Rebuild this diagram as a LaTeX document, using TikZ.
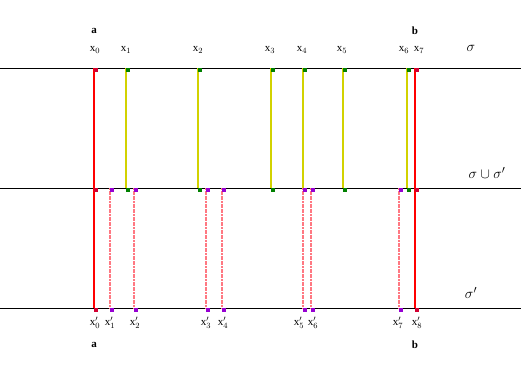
\documentclass[tikz,border=0pt]{standalone}
\usepackage{fontspec}
\setmainfont{Liberation Serif}
\definecolor{segred}{RGB}{255,0,0}
\definecolor{segyellow}{RGB}{210,210,0}
\definecolor{segpink}{RGB}{255,120,130}
\definecolor{dotgreen}{RGB}{0,128,0}
\definecolor{dotpurple}{RGB}{150,0,210}
\definecolor{dotred}{RGB}{210,0,50}
\tikzset{
    axis/.style={draw=black, line width=1pt},
    mark/.style={shape=rectangle, fill=#1, inner sep=0pt, minimum size=3.4pt, anchor=north west},
    lbl/.style={font=\fontsize{11}{13}\selectfont, inner sep=1pt},
    endseg/.style={draw=segred, line width=1.2pt},
    upseg/.style={draw=segyellow, line width=1.4pt},
    lowseg/.style={draw=segpink, line width=1.3pt, dash pattern=on 2pt off 0.6pt},
    setname/.style={font=\fontsize{15}{17}\selectfont},
    endname/.style={font=\fontsize{11}{13}\selectfont\bfseries}
}
\begin{document}
\begin{tikzpicture}[x=1pt, y=-1pt]
    \useasboundingbox (0,0) rectangle (521,373);

    % the three lines
    \coordinate (sL) at (0,68);   \coordinate (sR) at (521,68);
    \coordinate (uL) at (0,188);  \coordinate (uR) at (521,188);
    \coordinate (pL) at (0,308);  \coordinate (pR) at (521,308);
    \draw[axis] (sL) -- (sR);
    \draw[axis] (uL) -- (uR);
    \draw[axis] (pL) -- (pR);

    % points of sigma
    \coordinate (t0) at (94,68);  \coordinate (m0) at (94,188);
    \coordinate (t1) at (126,68); \coordinate (m1) at (126,188);
    \coordinate (t2) at (198,68); \coordinate (m2) at (198,188);
    \coordinate (t3) at (271,68); \coordinate (m3) at (271,188);
    \coordinate (t4) at (303,68); \coordinate (m4) at (303,188);
    \coordinate (t5) at (343,68); \coordinate (m5) at (343,188);
    \coordinate (t6) at (407,68); \coordinate (m6) at (407,188);
    \coordinate (t7) at (415,68); \coordinate (m7) at (415,188);

    % points of sigma'
    \coordinate (b0) at (94,308);
    \coordinate (n1) at (110,188); \coordinate (b1) at (110,308);
    \coordinate (n2) at (134,188); \coordinate (b2) at (134,308);
    \coordinate (n3) at (206,188); \coordinate (b3) at (206,308);
    \coordinate (n4) at (222,188); \coordinate (b4) at (222,308);
    \coordinate (n5) at (303,188); \coordinate (b5) at (303,308);
    \coordinate (n6) at (311,188); \coordinate (b6) at (311,308);
    \coordinate (n7) at (399,188); \coordinate (b7) at (399,308);
    \coordinate (b8) at (415,308);

    % connectors
    \draw[endseg] (t0) -- (m0);
    \draw[endseg] (m0) -- (b0);
    \draw[endseg] (t7) -- (m7);
    \draw[endseg] (m7) -- (b8);
    \foreach \i in {1,...,6}
        \draw[upseg] (t\i) -- (m\i);
    \foreach \i in {1,...,7}
        \draw[lowseg] (n\i) -- (b\i);

    % marks
    \node[mark=dotred] (t0m) at (t0) {};
    \node[mark=dotred] (t7m) at (t7) {};
    \node[mark=dotred] (m0m) at (m0) {};
    \node[mark=dotred] (m7m) at (m7) {};
    \node[mark=dotred] (b0m) at (b0) {};
    \node[mark=dotred] (b8m) at (b8) {};
    \foreach \i in {1,...,6} {
        \node[mark=dotgreen] (t\i m) at (t\i) {};
        \node[mark=dotgreen] (m\i m) at (m\i) {};
    }
    \foreach \i in {1,...,7} {
        \node[mark=dotpurple] (n\i m) at (n\i) {};
        \node[mark=dotpurple] (b\i m) at (b\i) {};
    }

    % labels of sigma
    \node[endname] (a1) at (94,31) {a};
    \node[endname] (b1) at (415,31) {b};
    \node[lbl] (tl0) at (95,50) {$\mathrm{x}_0$};
    \node[lbl] (tl1) at (126,50) {$\mathrm{x}_1$};
    \node[lbl] (tl2) at (198,50) {$\mathrm{x}_2$};
    \node[lbl] (tl3) at (270,50) {$\mathrm{x}_3$};
    \node[lbl] (tl4) at (302,50) {$\mathrm{x}_4$};
    \node[lbl] (tl5) at (342,50) {$\mathrm{x}_5$};
    \node[lbl] (tl6) at (404,50) {$\mathrm{x}_6$};
    \node[lbl] (tl7) at (419,50) {$\mathrm{x}_7$};

    % labels of sigma'
    \node[lbl] (bl0) at (95,323) {$\mathrm{x}'_0$};
    \node[lbl] (bl1) at (110,323) {$\mathrm{x}'_1$};
    \node[lbl] (bl2) at (135,323) {$\mathrm{x}'_2$};
    \node[lbl] (bl3) at (206,323) {$\mathrm{x}'_3$};
    \node[lbl] (bl4) at (223,323) {$\mathrm{x}'_4$};
    \node[lbl] (bl5) at (299,323) {$\mathrm{x}'_5$};
    \node[lbl] (bl6) at (313,323) {$\mathrm{x}'_6$};
    \node[lbl] (bl7) at (398,323) {$\mathrm{x}'_7$};
    \node[lbl] (bl8) at (417,323) {$\mathrm{x}'_8$};
    \node[endname] (a2) at (94,345) {a};
    \node[endname] (b2) at (415,345) {b};

    % set names
    \node[setname] (sig) at (471,48) {$\sigma$};
    \node[setname] (uni) at (487,173) {$\sigma\cup\sigma'$};
    \node[setname] (sigp) at (471,293) {$\sigma'$};
\end{tikzpicture}
\end{document}
